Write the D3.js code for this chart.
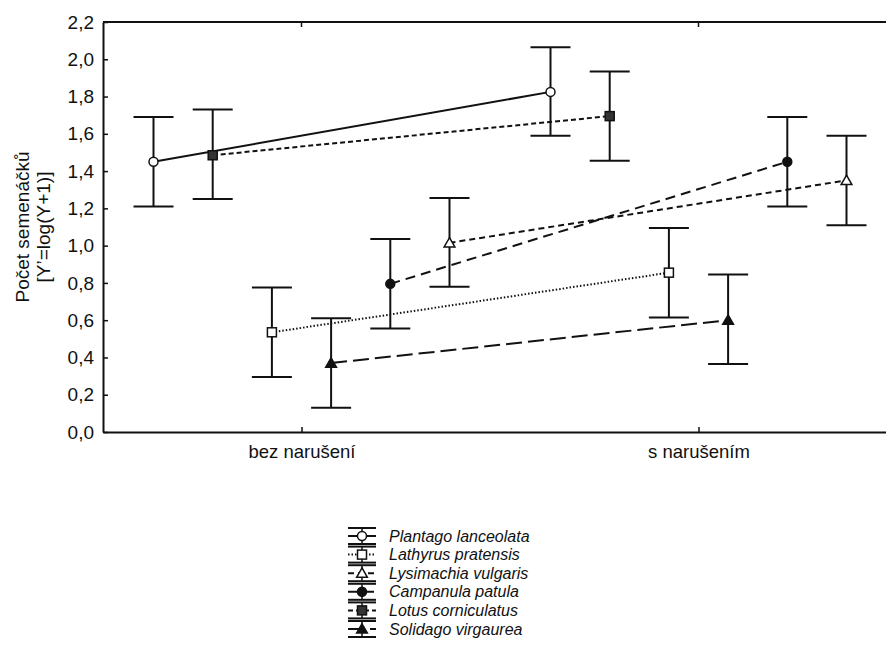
<!DOCTYPE html>
<html>
<head>
<meta charset="utf-8">
<script src="https://cdn.jsdelivr.net/npm/d3@7"></script>
<style>
  body { margin: 0; background: #fff; }
  text { font-family: "Liberation Sans", Arial, sans-serif; fill: #111; }
</style>
</head>
<body>
<div id="chart"></div>
<script>
// data
const categories = ['bez narušení', 's narušením'];
const species = ['Plantago lanceolata', 'Lathyrus pratensis', 'Lysimachia vulgaris',
                 'Campanula patula', 'Lotus corniculatus', 'Solidago virgaurea'];
// left-to-right order of the species inside each category
const offsetOrder = ['Plantago lanceolata', 'Lotus corniculatus', 'Lathyrus pratensis',
                     'Solidago virgaurea', 'Campanula patula', 'Lysimachia vulgaris'];
const meanBez  = [1.45, 0.535, 1.015, 0.795, 1.485, 0.37];
const lowerBez = [1.21, 0.295, 0.78, 0.555, 1.25, 0.13];
const upperBez = [1.69, 0.775, 1.255, 1.035, 1.73, 0.61];
const meanS    = [1.825, 0.855, 1.35, 1.45, 1.695, 0.60];
const lowerS   = [1.59, 0.615, 1.11, 1.21, 1.455, 0.365];
const upperS   = [2.065, 1.095, 1.59, 1.69, 1.935, 0.845];
const yTicks = [0, 0.2, 0.4, 0.6, 0.8, 1.0, 1.2, 1.4, 1.6, 1.8, 2.0, 2.2];

const styles = {
    'Plantago lanceolata': { dash: null, marker: 'circle', fill: '#fff' },
    'Lathyrus pratensis':  { dash: '1.5,2', marker: 'square', fill: '#fff' },
    'Lysimachia vulgaris': { dash: '6,4', marker: 'triangle', fill: '#fff' },
    'Campanula patula':    { dash: '10,6', marker: 'circle', fill: '#111' },
    'Lotus corniculatus':  { dash: '5,3', marker: 'square', fill: '#333' },
    'Solidago virgaurea':  { dash: '16,6', marker: 'triangle', fill: '#111' }
};

const width = 886, height = 659;
const margin = { left: 103, right: -11, top: 22, bottom: 227 };

const svg = d3.select('#chart').append('svg')
    .attr('width', width)
    .attr('height', height);

const x = d3.scalePoint()
    .domain(categories)
    .range([margin.left, width - margin.right])
    .padding(0.5);

const offset = d3.scalePoint()
    .domain(offsetOrder)
    .range([-148, 148]);

const y = d3.scaleLinear()
    .domain([0, 2.2])
    .range([height - margin.bottom, margin.top]);

const fmt = v => d3.format('.1f')(v).replace('.', ',');

// frame
svg.append('line')
    .attr('x1', margin.left).attr('x2', width - margin.right)
    .attr('y1', y(2.2)).attr('y2', y(2.2))
    .style('stroke', '#111').style('stroke-width', 2);

const yAxis = svg.append('g')
    .attr('transform', `translate(${margin.left},0)`)
    .call(d3.axisLeft(y).tickValues(yTicks).tickFormat(fmt).tickSizeInner(-5).tickSizeOuter(0).tickPadding(9));
yAxis.select('.domain').style('stroke', '#111').style('stroke-width', 2);
yAxis.selectAll('.tick line').style('stroke', '#111').style('stroke-width', 1.5);
yAxis.selectAll('text').style('font-size', '19px').attr('fill', '#111')
    .style('font-family', '"Liberation Sans", Arial, sans-serif');

const xAxis = svg.append('g')
    .attr('transform', `translate(0,${y(0)})`)
    .call(d3.axisBottom(x).tickSizeInner(-5).tickSizeOuter(0).tickPadding(13));
xAxis.select('.domain').style('stroke', '#111').style('stroke-width', 2);
xAxis.selectAll('.tick line').style('stroke', '#111').style('stroke-width', 1.5);
xAxis.selectAll('text').style('font-size', '18.5px').attr('fill', '#111')
    .style('font-family', '"Liberation Sans", Arial, sans-serif');

// small ticks on the top edge
svg.selectAll('.topTick').data(categories).enter().append('line')
    .attr('x1', d => x(d)).attr('x2', d => x(d))
    .attr('y1', y(2.2)).attr('y2', y(2.2) + 5)
    .style('stroke', '#111').style('stroke-width', 1.5);

// y title
const yTitle = svg.append('text')
    .attr('transform', `translate(29,${(y(0) + y(2.2)) / 2}) rotate(-90)`)
    .attr('text-anchor', 'middle')
    .style('font-size', '19px');
yTitle.append('tspan').attr('x', 0).attr('dy', 0).text('Počet semenáčků');
yTitle.append('tspan').attr('x', 0).attr('dy', 21).text('[Y’=log(Y+1)]');

function drawMarker(g, type, cx, cy, fill) {
    if (type === 'circle') {
        g.append('circle').attr('cx', cx).attr('cy', cy).attr('r', 4.5)
            .style('fill', fill).style('stroke', '#111').style('stroke-width', 1.5);
    } else if (type === 'square') {
        g.append('rect').attr('x', cx - 4.5).attr('y', cy - 4.5)
            .attr('width', 9).attr('height', 9)
            .style('fill', fill).style('stroke', '#111').style('stroke-width', 1.5);
    } else {
        g.append('path')
            .attr('d', d3.symbol().type(d3.symbolTriangle).size(50))
            .attr('transform', `translate(${cx},${cy + 1})`)
            .style('fill', fill).style('stroke', '#111').style('stroke-width', 1.5);
    }
}

const plot = svg.append('g');

species.forEach((sp, i) => {
    const st = styles[sp];
    const pts = [
        { cat: categories[0], m: meanBez[i], lo: lowerBez[i], hi: upperBez[i] },
        { cat: categories[1], m: meanS[i], lo: lowerS[i], hi: upperS[i] }
    ];
    const px = p => x(p.cat) + offset(sp);

    // error bars
    pts.forEach(p => {
        plot.append('line')
            .attr('x1', px(p)).attr('x2', px(p))
            .attr('y1', y(p.lo)).attr('y2', y(p.hi))
            .style('stroke', '#111').style('stroke-width', 2);
        [p.lo, p.hi].forEach(v => {
            plot.append('line')
                .attr('x1', px(p) - 20).attr('x2', px(p) + 20)
                .attr('y1', y(v)).attr('y2', y(v))
                .style('stroke', '#111').style('stroke-width', 2);
        });
    });

    // connecting line
    plot.append('line')
        .attr('x1', px(pts[0])).attr('y1', y(pts[0].m))
        .attr('x2', px(pts[1])).attr('y2', y(pts[1].m))
        .style('stroke', '#111').style('stroke-width', 2)
        .style('stroke-dasharray', st.dash);
});

species.forEach((sp, i) => {
    const st = styles[sp];
    drawMarker(plot, st.marker, x(categories[0]) + offset(sp), y(meanBez[i]), st.fill);
    drawMarker(plot, st.marker, x(categories[1]) + offset(sp), y(meanS[i]), st.fill);
});

// legend
const legend = svg.append('g');
const lx = 362, ly0 = 536, lstep = 18.6;
species.forEach((sp, i) => {
    const st = styles[sp];
    const cy = ly0 + i * lstep;
    [cy - 8, cy + 8].forEach(v => {
        legend.append('line')
            .attr('x1', lx - 14).attr('x2', lx + 14)
            .attr('y1', v).attr('y2', v)
            .style('stroke', '#111').style('stroke-width', 2);
    });
    legend.append('line')
        .attr('x1', lx).attr('x2', lx)
        .attr('y1', cy - 8).attr('y2', cy + 8)
        .style('stroke', '#111').style('stroke-width', 1.5);
    legend.append('line')
        .attr('x1', lx - 14).attr('x2', lx + 14)
        .attr('y1', cy).attr('y2', cy)
        .style('stroke', '#111').style('stroke-width', 2)
        .style('stroke-dasharray', st.dash);
    drawMarker(legend, st.marker, lx, cy, st.fill);
    legend.append('text')
        .attr('x', 389).attr('y', cy + 5.5)
        .style('font-size', '16px')
        .style('font-style', 'italic')
        .text(sp);
});
</script>
</body>
</html>
